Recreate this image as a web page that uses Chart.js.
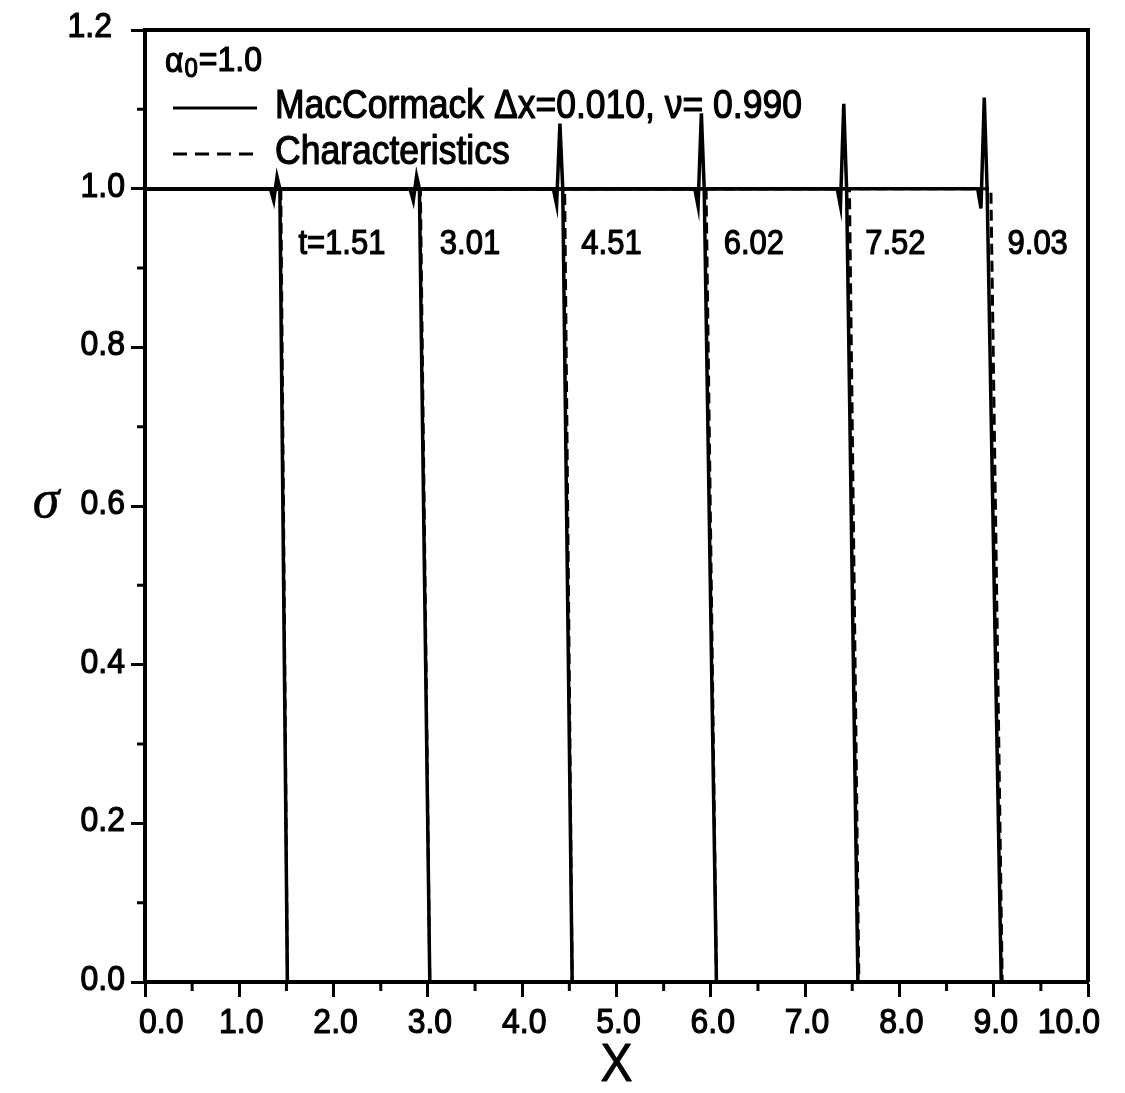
<!DOCTYPE html>
<html><head><meta charset="utf-8">
<script src="https://cdn.jsdelivr.net/npm/chart.js@4.4.0/dist/chart.umd.min.js"></script>
<style>html,body{margin:0;padding:0;background:#fff;}canvas{display:block}</style>
</head><body>
<canvas id="c" width="1125" height="1093"></canvas>
<script>
// ---- data ----
const xTickValues = [0, 1, 2, 3, 4, 5, 6, 7, 8, 9, 10];
const xTickLabels = ['0.0','1.0','2.0','3.0','4.0','5.0','6.0','7.0','8.0','9.0','10.0'];
const yTickValues = [0, 0.2, 0.4, 0.6, 0.8, 1.0, 1.2];
const yTickLabels = ['0.0','0.2','0.4','0.6','0.8','1.0','1.2'];
const timeLabels = ['t=1.51','3.01','4.51','6.02','7.52','9.03'];
const timeValues = [1.51, 3.01, 4.51, 6.02, 7.52, 9.03];
// MacCormack fronts: x where the drop leaves sigma=1 and where it reaches 0
const macFrontTop    = [1.43, 2.91, 4.43, 5.93, 7.44, 8.93];
const macFrontBottom = [1.51, 3.02, 4.53, 6.06, 7.56, 9.08];
const macPeak = [1.015, 1.016, 1.082, 1.095, 1.107, 1.115];
const macDip  = [0.985, 0.985, 0.980, 0.978, 0.978, 0.975];
// characteristics fronts
const charFrontTop    = [1.44, 2.92, 4.45, 5.95, 7.47, 8.97];
const charFrontBottom = [1.51, 3.02, 4.53, 6.06, 7.57, 9.09];
const xMin = 0, xMax = 10, yMin = 0, yMax = 1.2;

// ---- build datasets ----
const datasets = [];
timeValues.forEach((t, i) => {
  const ct = charFrontTop[i], cb = charFrontBottom[i];
  datasets.push({
    label: 'Characteristics',
    data: [{x: xMin, y: 1}, {x: ct, y: 1}, {x: cb, y: 0}, {x: xMax, y: 0}],
    borderColor: '#000', borderWidth: 3, borderDash: [11, 6], showLine: true,
    pointRadius: 0, fill: false, tension: 0
  });
});
timeValues.forEach((t, i) => {
  const a = macFrontTop[i], b = macFrontBottom[i];
  datasets.push({
    label: 'MacCormack',
    data: [{x: xMin, y: 1}, {x: a - 0.10, y: 1}, {x: a - 0.065, y: macDip[i]},
           {x: a - 0.03, y: macPeak[i]}, {x: a, y: 1}, {x: b, y: 0}, {x: xMax, y: 0}],
    borderColor: '#000', borderWidth: 3.5, showLine: true,
    pointRadius: 0, fill: false, tension: 0
  });
});

const FONT = '"Liberation Sans", Arial, Helvetica, sans-serif';
const SY = 1.12;
function txt(ctx, s, x, y, size, align, opts) {
  opts = opts || {};
  ctx.save();
  ctx.translate(x, y);
  ctx.scale(1, opts.sy || SY);
  ctx.font = (opts.style || '') + ' ' + size + 'px ' + (opts.family || FONT);
  ctx.textAlign = align;
  ctx.textBaseline = 'middle';
  ctx.fillStyle = '#000';
  ctx.strokeStyle = '#000';
  ctx.lineWidth = opts.stroke === undefined ? 1.1 : opts.stroke;
  ctx.lineJoin = 'round';
  ctx.fillText(s, 0, 0);
  if (ctx.lineWidth > 0) ctx.strokeText(s, 0, 0);
  const w = ctx.measureText(s).width;
  ctx.restore();
  return w;
}

const decor = {
  id: 'decor',
  afterDraw(chart) {
    const ctx = chart.ctx, ca = chart.chartArea;
    const xs = chart.scales.x, ys = chart.scales.y;
    ctx.save();
    // frame (top and right sides)
    ctx.strokeStyle = '#000';
    ctx.lineWidth = 4;
    ctx.beginPath();
    ctx.moveTo(ca.left, ca.top); ctx.lineTo(ca.right, ca.top); ctx.lineTo(ca.right, ca.bottom);
    ctx.stroke();
    // minor ticks
    ctx.lineWidth = 3;
    ctx.beginPath();
    for (let k = 0; k < xTickValues.length - 1; k++) {
      const px = xs.getPixelForValue((xTickValues[k] + xTickValues[k + 1]) / 2);
      ctx.moveTo(px, ca.bottom); ctx.lineTo(px, ca.bottom + 9);
    }
    for (let k = 0; k < yTickValues.length - 1; k++) {
      const py = ys.getPixelForValue((yTickValues[k] + yTickValues[k + 1]) / 2);
      ctx.moveTo(ca.left, py); ctx.lineTo(ca.left - 8, py);
    }
    ctx.stroke();
    // x tick labels
    xTickValues.forEach((v, k) => {
      const px = xs.getPixelForValue(v);
      if (k === 0) txt(ctx, xTickLabels[k], px - 6, ca.bottom + 41, 32, 'left');
      else if (k === xTickValues.length - 1) txt(ctx, xTickLabels[k], px + 12, ca.bottom + 41, 32, 'right');
      else txt(ctx, xTickLabels[k], px + 2, ca.bottom + 41, 32, 'center');
    });
    // y tick labels
    yTickValues.forEach((v, k) => {
      const py = ys.getPixelForValue(v);
      if (k === yTickValues.length - 1) txt(ctx, yTickLabels[k], ca.left - 33, py - 3, 32, 'right');
      else txt(ctx, yTickLabels[k], ca.left - 20, py - 2, 32, 'right');
    });
    // axis titles
    txt(ctx, 'X', xs.getPixelForValue((xMin + xMax) / 2), ca.bottom + 84, 48, 'center', {stroke: 0.8});
    txt(ctx, '\u03C3', 46, ys.getPixelForValue((yMin + yMax) / 2) - 3, 54, 'center',
        {style: 'italic', family: '"Liberation Serif", "DejaVu Serif", serif', sy: 1.0, stroke: 0.6});
    // time labels
    timeValues.forEach((t, i) => {
      txt(ctx, timeLabels[i], xs.getPixelForValue(t) + 11, ys.getPixelForValue(0.93), 31, 'left');
    });
    // legend block
    const lx = ca.left + 20;
    let w = txt(ctx, '\u03B1', lx, ca.top + 32, 32, 'left');
    let w2 = txt(ctx, '0', lx + w + 1, ca.top + 40, 24, 'left');
    txt(ctx, '=1.0', lx + w + w2 + 2, ca.top + 31, 32, 'left');
    ctx.lineWidth = 3;
    ctx.setLineDash([]);
    ctx.beginPath(); ctx.moveTo(ca.left + 28, ca.top + 78); ctx.lineTo(ca.left + 112, ca.top + 78); ctx.stroke();
    txt(ctx, 'MacCormack \u0394x=0.010, \u03BD= 0.990', ca.left + 130, ca.top + 77, 35.5, 'left');
    ctx.setLineDash([14, 8]);
    ctx.beginPath(); ctx.moveTo(ca.left + 28, ca.top + 124); ctx.lineTo(ca.left + 112, ca.top + 124); ctx.stroke();
    ctx.setLineDash([]);
    txt(ctx, 'Characteristics', ca.left + 130, ca.top + 123, 35.5, 'left');
    ctx.restore();
  }
};

new Chart(document.getElementById('c'), {
  type: 'scatter',
  data: {datasets},
  options: {
    responsive: false,
    animation: false,
    events: [],
    layout: {padding: {top: 30, right: 37, left: 0, bottom: 0}},
    plugins: {legend: {display: false}, tooltip: {enabled: false}, title: {display: false}},
    scales: {
      x: {
        type: 'linear', min: xMin, max: xMax,
        afterBuildTicks: s => { s.ticks = xTickValues.map(v => ({value: v})); },
        afterFit: s => { s.height = 111; },
        ticks: {display: false},
        grid: {drawOnChartArea: false, drawTicks: true, tickLength: 15, tickWidth: 3, tickColor: '#000'},
        border: {display: true, width: 4, color: '#000'}
      },
      y: {
        type: 'linear', min: yMin, max: yMax,
        afterBuildTicks: s => { s.ticks = yTickValues.map(v => ({value: v})); },
        afterFit: s => { s.width = 145; },
        ticks: {display: false},
        grid: {drawOnChartArea: false, drawTicks: true, tickLength: 14, tickWidth: 3, tickColor: '#000'},
        border: {display: true, width: 4, color: '#000'}
      }
    }
  },
  plugins: [decor]
});
</script>
</body></html>
